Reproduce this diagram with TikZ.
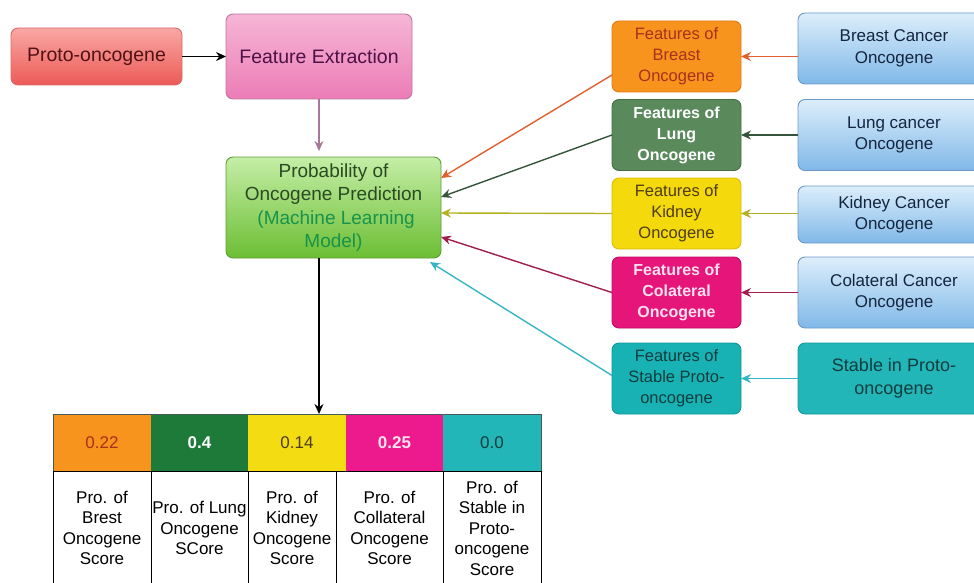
\documentclass[tikz,border=0pt]{standalone}
\usepackage{fontspec}
\setmainfont{Liberation Sans}
\usetikzlibrary{arrows.meta,calc}
\definecolor{protoT}{HTML}{F9A8A4}
\definecolor{protoB}{HTML}{EC5A56}
\definecolor{protoD}{HTML}{D86A6A}
\definecolor{featT}{HTML}{F6B6D6}
\definecolor{featB}{HTML}{EC7CB6}
\definecolor{featD}{HTML}{B87A9E}
\definecolor{probT}{HTML}{C4EEA6}
\definecolor{probM}{HTML}{86D04A}
\definecolor{probB}{HTML}{6CBE34}
\definecolor{probD}{HTML}{5E9E3A}
\definecolor{probTxt}{HTML}{2A4A22}
\definecolor{probTxtB}{HTML}{17934A}
\definecolor{blueT}{HTML}{DCEEFB}
\definecolor{blueB}{HTML}{80B8E8}
\definecolor{blueD}{HTML}{6C98C8}
\definecolor{blueTxt}{HTML}{15253F}
\definecolor{cOrange}{HTML}{F7941D}
\definecolor{cOrangeD}{HTML}{E27A18}
\definecolor{cOrangeTxt}{HTML}{A8301C}
\definecolor{cLung}{HTML}{5A8A5C}
\definecolor{cLungD}{HTML}{426E44}
\definecolor{cYellow}{HTML}{F4D90C}
\definecolor{cYellowD}{HTML}{D8BC10}
\definecolor{cYellowTxt}{HTML}{4E3C12}
\definecolor{cMag}{HTML}{E6157A}
\definecolor{cMagD}{HTML}{C20A62}
\definecolor{cMagTxt}{HTML}{FCE0EE}
\definecolor{cTeal}{HTML}{18B2B4}
\definecolor{cTealD}{HTML}{12989A}
\definecolor{cTealTxt}{HTML}{103C3E}
\definecolor{tGreen}{HTML}{1D7A38}
\definecolor{tYellow}{HTML}{F3DC12}
\definecolor{tMag}{HTML}{EC1A8C}
\definecolor{tTeal}{HTML}{22B6B8}
\definecolor{aOrange}{HTML}{E0602E}
\definecolor{aLung}{HTML}{34553A}
\definecolor{aYellow}{HTML}{B4B024}
\definecolor{aMag}{HTML}{A01E4C}
\definecolor{aTeal}{HTML}{34B6C4}
\definecolor{aFeat}{HTML}{A8789A}
\definecolor{protoTxt}{HTML}{501216}
\definecolor{featTxt}{HTML}{4E1046}
\definecolor{tblLine}{HTML}{465A5A}
\begin{document}
\begin{tikzpicture}[x=1pt,y=-1pt,
  box/.style={rounded corners=7pt, draw, line width=0.9pt, align=center, inner sep=1pt, outer sep=0pt},
  bigtxt/.style={font=\fontsize{19.5}{23}\selectfont},
  ftxt/.style={font=\fontsize{16.5}{21}\selectfont},
  btxt/.style={font=\fontsize{17}{21.5}\selectfont},
  featbox/.style={box, minimum width=129, minimum height=71, ftxt},
  bluebox/.style={box, minimum width=192, minimum height=71, btxt, draw=blueD, top color=blueT, bottom color=blueB, text=blueTxt},
  arr/.style={-{Stealth[length=10pt,width=9pt]}, line width=1.4pt},
  topcell/.style={minimum height=57, inner sep=0pt, outer sep=0pt, font=\fontsize{17}{20.5}\selectfont},
  botcell/.style={draw=black, line width=0.8pt, minimum height=114, inner sep=0pt, outer sep=0pt, align=center, font=\fontsize{17}{20.5}\selectfont, anchor=north west}
]
\useasboundingbox (0,0) rectangle (974,583);
\clip (0,0) rectangle (974,583);

% left chain
\node[box, bigtxt, minimum width=171, minimum height=57, draw=protoD, top color=protoT, bottom color=protoB, text=protoTxt] (proto) at (96.5,56.5) {Proto-oncogene};
\node[box, bigtxt, minimum width=186, minimum height=85, draw=featD, top color=featT, bottom color=featB, text=featTxt] (feat) at (319,56.5) {Feature Extraction};
\node[box, font=\fontsize{19}{23.3}\selectfont, minimum width=215, minimum height=101, draw=probD, top color=probT, middle color=probM, bottom color=probB] (prob) at (333.5,207.5)
  {\textcolor{probTxt}{Probability of}\\\textcolor{probTxt}{Oncogene Prediction}\\\textcolor{probTxtB}{\ (Machine Learning}\\\textcolor{probTxtB}{Model)}};

% feature boxes
\node[featbox, draw=cOrangeD, fill=cOrange, text=cOrangeTxt] (fb) at (676.5,56.5) {Features of\\Breast\\Oncogene};
\node[featbox, draw=cLungD, fill=cLung, text=white, font=\fontsize{16}{21}\selectfont\bfseries] (fl) at (676.5,135) {Features of\\Lung\\Oncogene};
\node[featbox, draw=cYellowD, fill=cYellow, text=cYellowTxt] (fk) at (676.5,213.5) {Features of\\Kidney\\Oncogene};
\node[featbox, draw=cMagD, fill=cMag, text=cMagTxt, font=\fontsize{16}{21}\selectfont\bfseries] (fc) at (676.5,292.5) {Features of\\Colateral\\Oncogene};
\node[featbox, draw=cTealD, fill=cTeal, text=cTealTxt] (fs) at (676.5,378.5) {Features of\\Stable Proto-\\oncogene};

% blue boxes
\node[bluebox] (bb) at (894,48.5) {Breast Cancer\\Oncogene};
\node[bluebox] (bl) at (894,135) {Lung cancer\\Oncogene};
\node[bluebox, minimum height=57] (bk) at (894,214.5) {Kidney Cancer\\Oncogene};
\node[bluebox] (bc) at (894,292.5) {Colateral Cancer\\Oncogene};
\node[box, minimum width=192, minimum height=71, draw=cTealD, fill=tTeal, text=cTealTxt, font=\fontsize{18}{23}\selectfont] (bs) at (894,378.5) {Stable in Proto-\\oncogene};

% table top row
\node[topcell, minimum width=98, fill=cOrange, text=cOrangeTxt] (t1) at (102,442.5) {0.22};
\node[topcell, minimum width=97, fill=tGreen, text=white, font=\fontsize{17}{20.5}\selectfont\bfseries] (t2) at (199.5,442.5) {0.4};
\node[topcell, minimum width=98, fill=tYellow, text=cYellowTxt] (t3) at (297,442.5) {0.14};
\node[topcell, minimum width=97, fill=tMag, text=cMagTxt, font=\fontsize{17}{20.5}\selectfont\bfseries] (t4) at (394.5,442.5) {0.25};
\node[topcell, minimum width=98, fill=tTeal, text=cTealTxt] (t5) at (492,442.5) {0.0};
\draw[line width=0.6pt, draw=tblLine] (t1.south west) rectangle (t5.north east);

% table bottom row
\node[botcell, minimum width=98] (b1) at (53,471) {Pro. of\\Brest\\Oncogene\\Score};
\node[botcell, minimum width=97] (b2) at (151,471) {Pro. of Lung\\Oncogene\\SCore};
\node[botcell, minimum width=88] (b3) at (248,471) {Pro. of\\Kidney\\Oncogene\\Score};
\node[botcell, minimum width=107] (b4) at (336,471) {Pro. of\\Collateral\\Oncogene\\Score};
\node[botcell, minimum width=98] (b5) at (443,471) {Pro. of\\Stable in\\Proto-\\oncogene\\Score};

% connectors left
\draw[arr, black] (proto.east) -- (feat.west);
\draw[arr, aFeat, shorten >=6pt] (feat.south) -- (feat.south |- prob.north);
\draw[arr, black] (prob.south -| feat.south) -- (t3.north -| feat.south);

% blue -> features
\draw[arr, aOrange] (bb.west |- fb.east) -- (fb.east);
\draw[arr, aLung] (bl.west) -- (fl.east);
\draw[arr, aYellow] (bk.west |- fk.east) -- (fk.east);
\draw[arr, aMag] (bc.west) -- (fc.east);
\draw[arr, aTeal] (bs.west) -- (fs.east);

% features -> prob
\draw[arr, aOrange] ([yshift=-18.5pt]fb.west) -- ([yshift=29.5pt]prob.east);
\draw[arr, aLung] (fl.west) -- ([yshift=10.5pt]prob.east);
\draw[arr, aYellow] (fk.west) -- ([yshift=-5.5pt]prob.east);
\draw[arr, aMag] (fc.west) -- ([yshift=-29.5pt]prob.east);
\draw[arr, aTeal] ([yshift=3pt]fs.west) -- ([xshift=-11pt,yshift=-4pt]prob.south east);
\end{tikzpicture}
\end{document}
